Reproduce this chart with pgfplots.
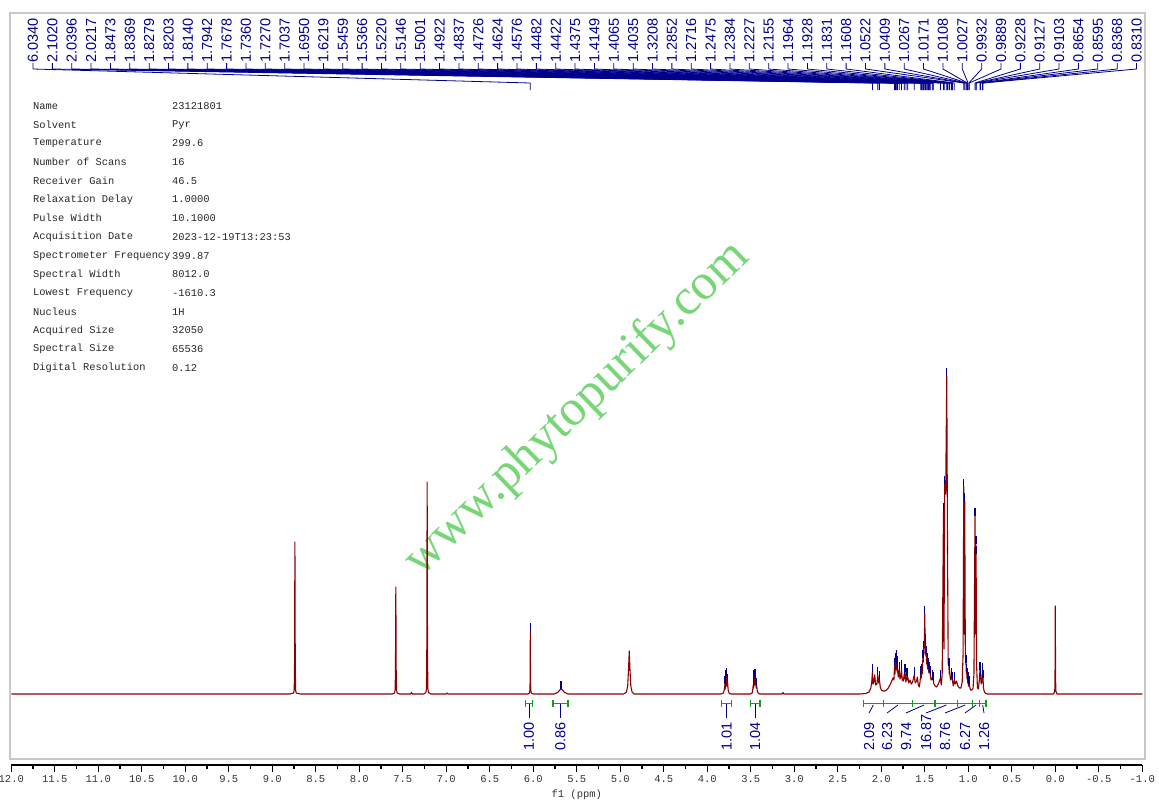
\documentclass[border=0pt]{standalone}
\usepackage{fontspec}
\setmainfont{Liberation Sans}
\setmonofont{Liberation Mono}
\newfontfamily\wmfont{Liberation Serif}
\usepackage{pgfplots}
\pgfplotsset{compat=1.18}

\definecolor{specred}{RGB}{139,0,0}
\definecolor{peakblue}{RGB}{0,0,140}
\definecolor{intgreen}{RGB}{20,160,20}
\definecolor{wmgreen}{RGB}{120,214,120}
\definecolor{framegray}{RGB}{200,200,200}

\begin{document}
\begin{tikzpicture}
\path[use as bounding box] (0,0) rectangle (1159pt,-807pt);

% frame, watermark and parameter table (1pt = 1 px, y downwards)
\begin{scope}[x=1pt,y=-1pt]
  \draw[framegray, line width=1.6pt] (10,13) rectangle (1145,759);
  \node[rotate=44, anchor=base, inner sep=0, text=wmgreen,
        font=\wmfont\fontsize{51}{51}\selectfont] at (586,418) {www.phytopurify.com};
  \foreach \k/\v [count=\i from 0] in {Name/23121801, Solvent/Pyr, Temperature/299.6,
      Number of Scans/16, Receiver Gain/46.5, Relaxation Delay/1.0000, Pulse Width/10.1000,
      Acquisition Date/2023-12-19T13:23:53, Spectrometer Frequency/399.87,
      Spectral Width/8012.0, Lowest Frequency/-1610.3, Nucleus/1H, Acquired Size/32050,
      Spectral Size/65536, Digital Resolution/0.12}{
    \node[anchor=west, inner sep=0, text=black!85, font=\ttfamily\fontsize{10.4}{12}\selectfont]
      at (33,106+18.71*\i) {\k};
    \node[anchor=west, inner sep=0, text=black!85, font=\ttfamily\fontsize{10.4}{12}\selectfont]
      at (172,106+18.71*\i) {\v};
  }
\end{scope}

\begin{axis}[
  at={(576.8pt,-388.5pt)}, anchor=center,
  scale only axis, width=1131pt, height=753pt,
  xmin=-1, xmax=12, ymin=-71, ymax=682,
  x dir=reverse,
  axis x line*=bottom, axis y line=none,
  xtick distance=0.5, minor x tick num=1,
  xtick pos=bottom, tick align=outside,
  major tick length=7pt, minor tick length=3.5pt,
  every tick/.style={black, line width=1.1pt},
  x axis line style={line width=1.5pt, -},
  /pgf/number format/fixed, /pgf/number format/fixed zerofill,
  /pgf/number format/precision=1, /pgf/number format/assume math mode=true,
  xticklabel style={font=\ttfamily\fontsize{10.5}{12}\selectfont, text=black!80},
  xlabel={f1 (ppm)},
  xlabel style={font=\ttfamily\fontsize{10.5}{12}\selectfont, text=black!80},
]
% spectrum
\addplot[specred, line width=1.1pt, line join=round] coordinates {
(12.1,0) (8.80,0) (8.755,1) (8.748,4) (8.744,30) (8.740,152) (8.736,30) (8.732,4) (8.725,1) (8.68,0)
(7.62,0) (7.595,1) (7.588,4) (7.584,25) (7.580,107) (7.576,25) (7.572,4) (7.565,1) (7.54,0)
(7.41,0) (7.40,1.5) (7.39,0)
(7.26,0) (7.235,1.5) (7.228,5) (7.224,45) (7.220,212) (7.216,45) (7.212,5) (7.205,1.5) (7.18,0)
(7.00,0) (6.99,1) (6.98,0)
(6.06,0) (6.045,1) (6.039,4) (6.036,15) (6.034,63) (6.032,15) (6.029,4) (6.023,1) (6.00,0)
(5.76,0) (5.72,1.5) (5.695,4) (5.68,5) (5.665,4) (5.64,1.5) (5.60,0)
(4.96,0) (4.93,2) (4.915,8) (4.905,25) (4.897,43) (4.889,25) (4.879,8) (4.865,2) (4.84,0)
(3.84,0) (3.815,1) (3.805,4) (3.797,10) (3.792,5) (3.787,16) (3.782,8) (3.777,18) (3.772,8) (3.767,12) (3.760,4) (3.75,1) (3.73,0)
(3.50,0) (3.485,1) (3.478,4) (3.472,9) (3.467,6) (3.462,16) (3.457,9) (3.452,17) (3.447,9) (3.442,15) (3.437,6) (3.432,8) (3.425,3) (3.415,1) (3.40,0)
(3.14,0) (3.13,1.5) (3.12,0)
(2.25,0) (2.18,0.5) (2.14,2) (2.12,6) (2.110,12) (2.1020,22) (2.095,10) (2.085,12) (2.075,19) (2.065,9)
(2.050,10) (2.0396,19) (2.030,11) (2.0217,15) (2.012,7) (2.000,4) (1.980,3) (1.960,3) (1.940,4) (1.920,6)
(1.900,9) (1.880,13) (1.865,16) (1.855,14) (1.8473,28) (1.842,20) (1.8369,33) (1.832,24) (1.8279,36) (1.824,25)
(1.8203,30) (1.817,22) (1.8140,26) (1.805,17) (1.7942,24) (1.785,15) (1.775,17) (1.7678,26) (1.760,14) (1.748,13)
(1.7360,20) (1.732,15) (1.7270,22) (1.718,12) (1.7037,18) (1.700,14) (1.6950,17) (1.685,11) (1.670,14) (1.655,10)
(1.640,12) (1.6219,19) (1.610,11) (1.595,13) (1.585,17) (1.575,9) (1.563,7) (1.555,12) (1.5459,20) (1.541,16)
(1.5366,22) (1.530,20) (1.5220,36) (1.518,32) (1.5146,45) (1.508,40) (1.5001,80) (1.496,50) (1.4922,52) (1.488,38)
(1.4837,40) (1.478,30) (1.4726,33) (1.467,25) (1.4624,28) (1.4576,25) (1.453,21) (1.4482,24) (1.4422,22) (1.4375,20)
(1.428,14) (1.4149,16) (1.4065,14) (1.4035,14) (1.395,10) (1.380,8) (1.365,7) (1.350,9) (1.335,12) (1.3208,16)
(1.310,9) (1.300,20) (1.2852,183) (1.279,45) (1.2716,210) (1.2600,200) (1.2475,318) (1.2384,140) (1.231,30) (1.2227,28)
(1.219,20) (1.2155,24) (1.205,14) (1.1964,18) (1.1928,16) (1.1831,14) (1.172,8) (1.1608,14) (1.150,10) (1.135,13)
(1.120,8) (1.100,6) (1.085,6) (1.070,12) (1.060,40) (1.0522,207) (1.047,60) (1.0409,193) (1.034,40) (1.0267,31)
(1.022,20) (1.0171,22) (1.014,15) (1.0108,18) (1.006,11) (1.0027,14) (0.998,8) (0.9932,10) (0.991,8) (0.9889,9)
(0.975,4) (0.960,4) (0.945,6) (0.935,20) (0.9228,178) (0.9180,60) (0.9127,150) (0.9103,140) (0.905,30) (0.895,6)
(0.885,5) (0.875,12) (0.8654,24) (0.8595,18) (0.852,10) (0.845,12) (0.8368,23) (0.8310,16) (0.825,6) (0.815,2)
(0.80,0.5) (0.78,0)
(0.02,0) (0.006,3) (0.003,20) (0,88) (-0.003,20) (-0.006,3) (-0.02,0) (-1.1,0)
};
% peak picking marks
\addplot[only marks, mark=|, mark size=4pt, peakblue, mark options={line width=1.3pt}] coordinates {
(6.034,67) (5.68,9) (3.797,14) (3.787,20) (3.777,22) (3.767,16)
(3.472,13) (3.462,20) (3.452,21) (3.442,19) (3.432,12)
(2.1020,26) (2.0396,23) (2.0217,19) (1.8473,32) (1.8369,37) (1.8279,40) (1.8203,34) (1.8140,30)
(1.7942,28) (1.7678,30) (1.7360,24) (1.7270,26) (1.7037,22) (1.6950,21) (1.6219,23) (1.5459,24)
(1.5366,26) (1.5220,40) (1.5146,49) (1.5001,84) (1.4922,56) (1.4837,44) (1.4726,37) (1.4624,32)
(1.4576,29) (1.4482,28) (1.4422,26) (1.4375,24) (1.4149,20) (1.4065,18) (1.4035,18) (1.3208,20)
(1.2852,187) (1.2716,214) (1.2475,322) (1.2384,144) (1.2227,32) (1.2155,28) (1.1964,22) (1.1928,20)
(1.1831,18) (1.1608,18) (1.0522,211) (1.0409,197) (1.0267,35) (1.0171,26) (1.0108,22) (1.0027,18)
(0.9932,14) (0.9889,13) (0.9228,182) (0.9127,154) (0.9103,144) (0.8654,28) (0.8595,22) (0.8368,27)
(0.8310,20)
};
\end{axis}

% peak labels and integrals (1pt = 1 px, y downwards)
\begin{scope}[x=1pt,y=-1pt]
  \foreach \p [count=\i from 0] in {6.0340,2.1020,2.0396,2.0217,1.8473,1.8369,1.8279,1.8203,1.8140,
      1.7942,1.7678,1.7360,1.7270,1.7037,1.6950,1.6219,1.5459,1.5366,1.5220,1.5146,1.5001,1.4922,
      1.4837,1.4726,1.4624,1.4576,1.4482,1.4422,1.4375,1.4149,1.4065,1.4035,1.3208,1.2852,1.2716,
      1.2475,1.2384,1.2227,1.2155,1.1964,1.1928,1.1831,1.1608,1.0522,1.0409,1.0267,1.0171,1.0108,
      1.0027,0.9932,0.9889,0.9228,0.9127,0.9103,0.8654,0.8595,0.8368,0.8310}{
    \pgfmathsetmacro\xl{33+19.36*\i}
    \pgfmathsetmacro\xp{1055.3-87*\p}
    \draw[peakblue, line width=0.8pt] (\xl,63) -- (\xl,69) -- (\xp,83) -- (\xp,90);
    \node[rotate=90, anchor=west, inner sep=0, text=peakblue,
          font=\fontsize{14.5}{15}\selectfont] at (\xl,63) {\p};
  }
  % integral brackets
  \foreach \a/\b in {525.5/532.5, 553/568, 721.5/731.5, 750.5/760,
      863.3/883.3, 883.3/912.7, 912.7/935, 935/957.7, 957.7/972.7, 972.7/979.3, 979.3/986}{
    \draw[intgreen, line width=1.1pt] (\a,703.5) -- (\b,703.5);
    \draw[intgreen, line width=1.1pt] (\a,700) -- (\a,707) (\b,700) -- (\b,707);
  }
  \foreach \c/\l/\v in {529/529/1.00, 560.5/560.5/0.86, 726.5/726.5/1.01, 755.2/755.2/1.04}{
    \draw[peakblue, line width=1pt] (\c,704) -- (\l,718);
    \node[rotate=90, anchor=west, inner sep=0, text=peakblue,
          font=\fontsize{14.5}{15}\selectfont] at (\l,751) {\v};
  }
  \foreach \c/\l/\v in {873.3/869/2.09, 898/887/6.23, 923.9/906/9.74, 946.4/926/16.87,
      965.2/945/8.76, 976/965/6.27, 982.7/984/1.26}{
    \draw[peakblue, line width=0.8pt] (\c,705) -- (\l,713);
    \node[rotate=90, anchor=west, inner sep=0, text=peakblue,
          font=\fontsize{14.5}{15}\selectfont] at (\l,751) {\v};
  }
\end{scope}
\end{tikzpicture}
\end{document}
